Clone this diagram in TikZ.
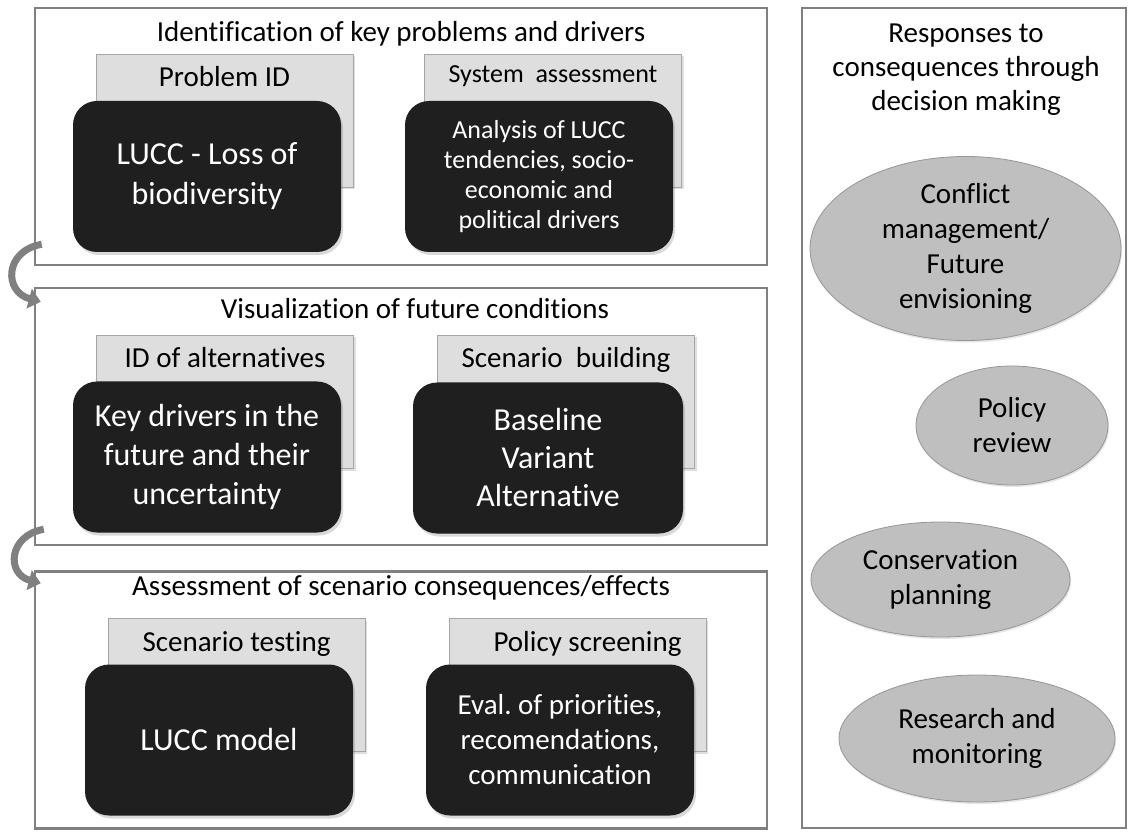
\documentclass[tikz,border=0pt]{standalone}
\usepackage{fontspec}
\setmainfont{Carlito}[Ligatures=NoCommon]
\usepackage{xcolor}
\usetikzlibrary{shapes.geometric, arrows.meta, shadows, positioning}

\definecolor{framegray}{HTML}{808080}
\definecolor{tabgray}{HTML}{DEDEDE}
\definecolor{tabborder}{HTML}{A6A6A6}
\definecolor{coredark}{HTML}{1F1F1F}
\definecolor{ellgray}{HTML}{BFBFBF}
\definecolor{ellborder}{HTML}{969696}

\begin{document}
\begin{tikzpicture}[x=1pt, y=1pt]
    \tikzset{
        stage_frame/.style={draw=framegray, line width=2.5pt, inner sep=0pt, minimum width=732pt, minimum height=257pt},
        stage_title/.style={font=\fontsize{29}{35}\selectfont, inner sep=0pt, anchor=base},
        tab_box/.style={draw=tabborder, fill=tabgray, line width=0.8pt, minimum width=257pt, minimum height=133pt,
            drop shadow={shadow xshift=2pt, shadow yshift=-2pt, opacity=0.25}},
        tab_text/.style={font=\fontsize{29}{35}\selectfont, inner sep=0pt, anchor=base},
        core_box/.style={fill=coredark, rounded corners=24pt, minimum width=268pt, minimum height=151pt,
            text=white, align=center, drop shadow={shadow xshift=2pt, shadow yshift=-3pt, opacity=0.3}},
        response_ell/.style={ellipse, draw=ellborder, fill=ellgray, line width=0.8pt, inner sep=0pt, align=center,
            font=\fontsize{29}{35}\selectfont, drop shadow={shadow xshift=1pt, shadow yshift=-2pt, opacity=0.2}},
        cycle_arrow/.style={draw=framegray, line width=7pt, -{Triangle[length=12pt, width=20pt]}}
    }
    \useasboundingbox (0,0) rectangle (1129,831);

    % --- Stufen links ---
    \foreach \name/\ypos/\ttl/\tx/\ty in {A/694.5/{Identification of key problems and drivers}/401/789,
                                          B/414.5/{Visualization of future conditions}/415/512,
                                          C/131/{Assessment of scenario consequences/effects}/401/236} {
        \node[stage_frame] (frame\name) at (401,\ypos) {};
        \node[stage_title] (title\name) at (\tx,\ty) {\ttl};
    }

    % --- Reiter ---
    \node[tab_box] (tabA1) at (224.5,710) {};
    \node[tab_box] (tabA2) at (553,710) {};
    \node[tab_box] (tabB1) at (225,429) {};
    \node[tab_box] (tabB2) at (566,429) {};
    \node[tab_box] (tabC1) at (236.5,146) {};
    \node[tab_box] (tabC2) at (577.5,146) {};

    \node[tab_text] (labA1) at ([yshift=-32pt]tabA1.north) {Problem ID};
    \node[tab_text, font=\fontsize{26}{31}\selectfont] (labA2) at ([yshift=-28pt]tabA2.north) {System\ \ assessment};
    \node[tab_text] (labB1) at ([yshift=-32pt]tabB1.north) {ID of alternatives};
    \node[tab_text] (labB2) at ([yshift=-32pt]tabB2.north) {Scenario\ \ building};
    \node[tab_text] (labC1) at ([yshift=-33pt]tabC1.north) {Scenario testing};
    \node[tab_text] (labC2) at ([xshift=10pt, yshift=-33pt]tabC2.north) {Policy screening};

    % --- dunkle Kästen ---
    \node[core_box, font=\fontsize{32}{40}\selectfont] (coreA1) at (207,654.5) {LUCC - Loss of\\biodiversity};
    \node[core_box, font=\fontsize{26}{30}\selectfont] (coreA2) at (539,654.5) {Analysis of LUCC\\tendencies, socio-\\economic and\\political drivers};
    \node[core_box, font=\fontsize{32}{39}\selectfont] (coreB1) at (207,374) {Key drivers in the\\future and their\\uncertainty};
    \node[core_box, font=\fontsize{32}{38}\selectfont, minimum width=270pt] (coreB2) at (548,373) {Baseline\\Variant\\Alternative};
    \node[core_box, font=\fontsize{32}{38}\selectfont] (coreC1) at (219,91) {LUCC model};
    \node[core_box, font=\fontsize{29}{35}\selectfont] (coreC2) at (560,91) {Eval.\ of priorities,\\recomendations,\\communication};

    % --- Antworten rechts ---
    \node[draw=framegray, line width=2.5pt, inner sep=0pt, minimum width=324pt, minimum height=820pt] (frameR) at (964,413) {};
    \node[font=\fontsize{29}{34}\selectfont, align=center, inner sep=0pt, anchor=north] (titleR) at (966,807)
        {Responses to\\consequences through\\decision making};
    \node[response_ell, minimum width=311pt, minimum height=163pt] (ellConflict) at (965.5,582.5) {Conflict\\management/\\Future\\envisioning};
    \node[response_ell, minimum width=192pt, minimum height=119pt] (ellPolicy) at (1012,405.5) {Policy\\review};
    \node[response_ell, minimum width=259pt, minimum height=115pt] (ellConserv) at (940.5,251.5) {Conservation\\planning};
    \node[response_ell, minimum width=276pt, minimum height=127pt] (ellResearch) at (977,92.5) {Research and\\monitoring};

    % --- Kreislaufpfeile ---
    \draw[cycle_arrow] ([shift={(8pt,22pt)}]frameA.south west) to[out=190, in=165, looseness=1.7] ([shift={(7pt,-15pt)}]frameB.north west);
    \draw[cycle_arrow] ([shift={(10pt,17pt)}]frameB.south west) to[out=190, in=165, looseness=1.7] ([shift={(7pt,-13pt)}]frameC.north west);

\end{tikzpicture}
\end{document}
